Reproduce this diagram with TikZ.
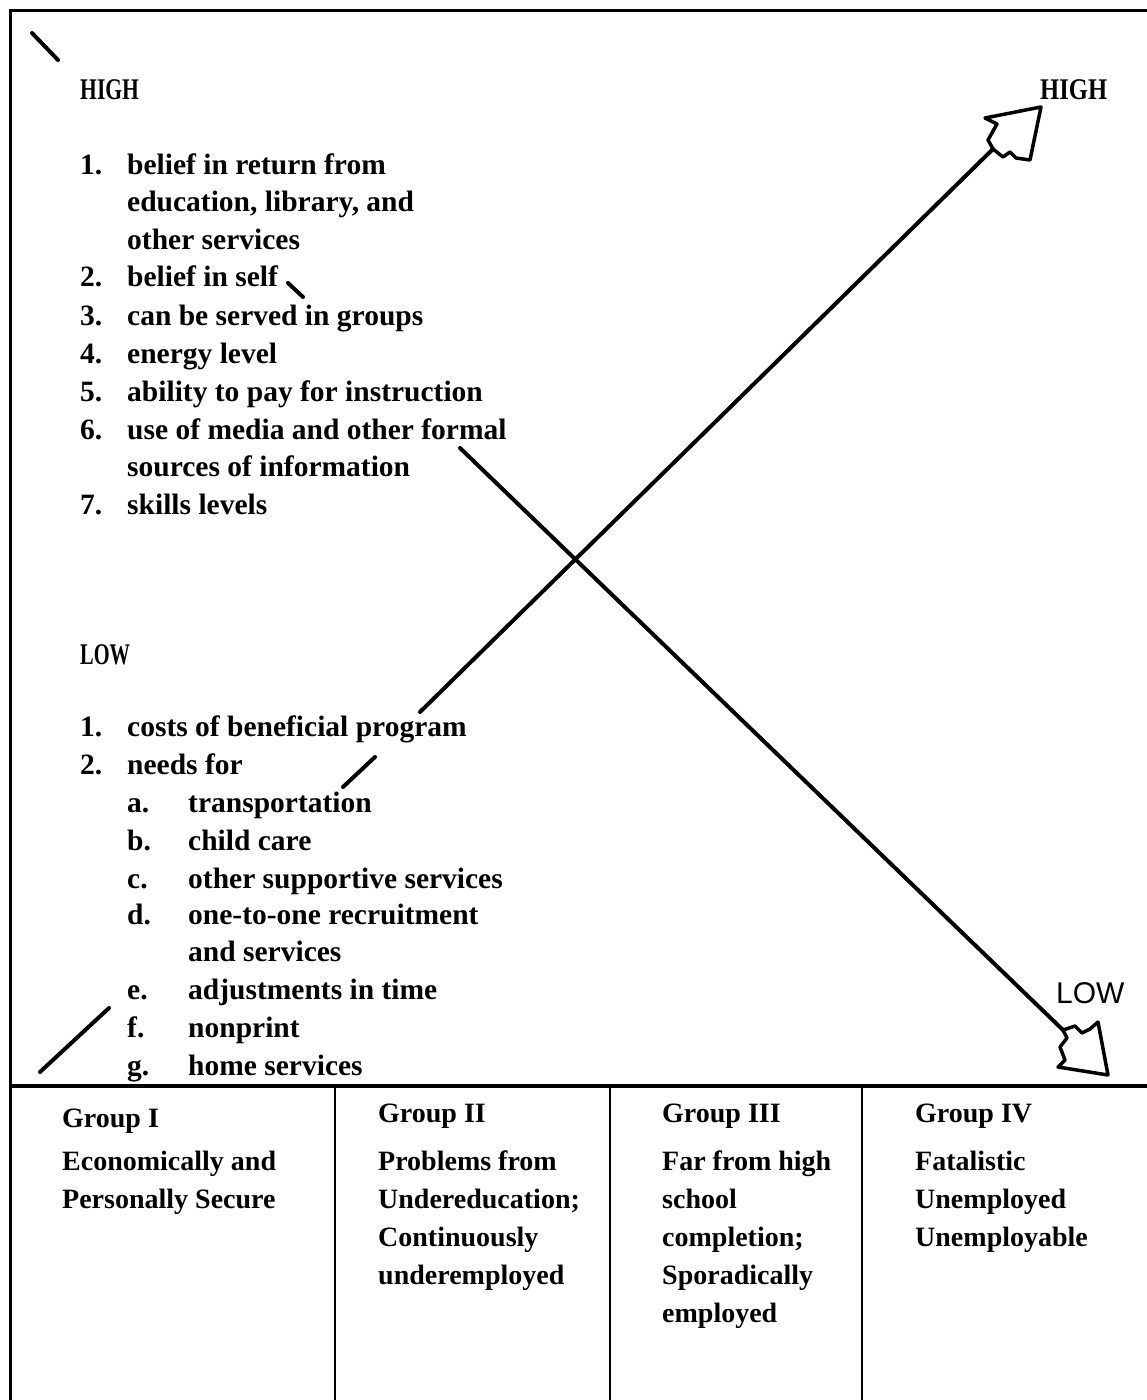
\documentclass[tikz,border=0pt]{standalone}
\usepackage{fontspec}
\usepackage{graphicx}
\setmainfont{Liberation Serif}
\setsansfont{Liberation Sans}
\begin{document}
\begin{tikzpicture}[x=1pt,y=-1pt,
  txt/.style={anchor=west, inner sep=0pt, yshift=-7pt, font=\bfseries\fontsize{29.5}{34}\selectfont, text height=0.7em, text depth=0.25em},
  grp/.style={txt, font=\bfseries\fontsize{28}{34}\selectfont},
  head/.style={txt, font=\bfseries\fontsize{30}{34}\selectfont},
  hand/.style={anchor=west, inner sep=0pt, font=\sffamily\fontsize{30}{32}\selectfont},
  frame/.style={line width=3pt},
  divider/.style={line width=2.2pt},
  stroke/.style={line width=4pt, line cap=round},
  ahead/.style={line width=3.5pt, line join=round, line cap=round}]
\useasboundingbox (0,0) rectangle (1147,1400);
\fill[white] (0,0) rectangle (1147,1400);
% frame
\coordinate (ftl) at (10,10);
\coordinate (ftr) at (1147,10);
\coordinate (fbl) at (10,1400);
\draw[frame] (ftr) -- (ftl) -- (fbl);
% table
\coordinate (tl) at (10,1086);
\coordinate (tr) at (1147,1086);
\draw[line width=4pt] (tl) -- (tr);
\foreach \n/\x in {d1/335,d2/610,d3/862}{
  \coordinate (\n t) at (\x,1086);
  \coordinate (\n b) at (\x,1400);
  \draw[divider] (\n t) -- (\n b);
}
% HIGH list
\node[head] (high) at (80,90) {\scalebox{0.72}[1]{HIGH}};
\node[txt] (n1) at (80,165) {1.};
\node[txt] (t1a) at (127,165) {belief in return from};
\node[txt] (t1b) at (127,202) {education, library, and};
\node[txt] (t1c) at (127,240) {other services};
\node[txt] (n2) at (80,277) {2.};
\node[txt] (t2) at (127,277) {belief in self};
\node[txt] (n3) at (80,316) {3.};
\node[txt] (t3) at (127,316) {can be served in groups};
\node[txt] (n4) at (80,354) {4.};
\node[txt] (t4) at (127,354) {energy level};
\node[txt] (n5) at (80,392) {5.};
\node[txt] (t5) at (127,392) {ability to pay for instruction};
\node[txt] (n6) at (80,430) {6.};
\node[txt] (t6a) at (127,430) {use of media and other formal};
\node[txt] (t6b) at (127,467) {sources of information};
\node[txt] (n7) at (80,505) {7.};
\node[txt] (t7) at (127,505) {skills levels};
% LOW list
\node[head] (low) at (80,655) {\scalebox{0.68}[1]{LOW}};
\node[txt] (m1) at (80,727) {1.};
\node[txt] (u1) at (127,727) {costs of beneficial program};
\node[txt] (m2) at (80,765) {2.};
\node[txt] (u2) at (127,765) {needs for};
\node[txt] (la) at (127,803) {a.};
\node[txt] (ua) at (188,803) {transportation};
\node[txt] (lb) at (127,841) {b.};
\node[txt] (ub) at (188,841) {child care};
\node[txt] (lc) at (127,879) {c.};
\node[txt] (uc) at (188,879) {other supportive services};
\node[txt] (ld) at (127,915) {d.};
\node[txt] (ud1) at (188,915) {one-to-one recruitment};
\node[txt] (ud2) at (188,952) {and services};
\node[txt] (le) at (127,990) {e.};
\node[txt] (ue) at (188,990) {adjustments in time};
\node[txt] (lf) at (127,1028) {f.};
\node[txt] (uf) at (188,1028) {nonprint};
\node[txt] (lg) at (127,1066) {g.};
\node[txt] (ug) at (188,1066) {home services};
% right labels
\node[head] (highr) at (1040,90) {\scalebox{0.82}[1]{HIGH}};
\node[hand] (lowr) at (1056,993) {LOW};
% groups
\node[grp] (g1) at (62,1118) {Group I};
\node[grp] (g1a) at (62,1161) {Economically and};
\node[grp] (g1b) at (62,1199) {Personally Secure};
\node[grp] (g2) at (378,1113) {Group II};
\node[grp] (g2a) at (378,1161) {Problems from};
\node[grp] (g2b) at (378,1199) {Undereducation;};
\node[grp] (g2c) at (378,1237) {Continuously};
\node[grp] (g2d) at (378,1275) {underemployed};
\node[grp] (g3) at (662,1113) {Group III};
\node[grp] (g3a) at (662,1161) {Far from high};
\node[grp] (g3b) at (662,1199) {school};
\node[grp] (g3c) at (662,1237) {completion;};
\node[grp] (g3d) at (662,1275) {Sporadically};
\node[grp] (g3e) at (662,1313) {employed};
\node[grp] (g4) at (915,1113) {Group IV};
\node[grp] (g4a) at (915,1161) {Fatalistic};
\node[grp] (g4b) at (915,1199) {Unemployed};
\node[grp] (g4c) at (915,1237) {Unemployable};
% rising line (LOW-left to HIGH-right)
\coordinate (a1s) at (40,1072);
\coordinate (a1e) at (109,1008);
\coordinate (a2s) at (343,787);
\coordinate (a2e) at (375,757);
\coordinate (a3s) at (420,712);
\coordinate (a3e) at (993,149);
\draw[stroke] (a1s) -- (a1e);
\draw[stroke] (a2s) -- (a2e);
\draw[stroke] (a3s) -- (a3e);
\coordinate (hTip) at (1041,107);
\draw[ahead] (1030,160) -- (hTip) -- (985,118) -- (997,124) -- (988,140) -- (993,149)
  -- (1003,157) -- (1010,152) -- (1016,158) -- (1030,160);
% falling line (HIGH-left to LOW-right)
\coordinate (b1s) at (32,33);
\coordinate (b1e) at (58,60);
\coordinate (b2s) at (288,283);
\coordinate (b2e) at (303,297);
\coordinate (b3s) at (460,448);
\coordinate (b3e) at (1063,1030);
\draw[stroke] (b1s) -- (b1e);
\draw[stroke] (b2s) -- (b2e);
\draw[stroke] (b3s) -- (b3e);
\coordinate (lTip) at (1108,1075);
\draw[ahead] (1098,1022) -- (lTip) -- (1058,1067) -- (1065,1060) -- (1060,1047) -- (1067,1038)
  -- (1063,1030) -- (1075,1026) -- (1082,1033) -- (1090,1029) -- (1098,1022);
\end{tikzpicture}
\end{document}
